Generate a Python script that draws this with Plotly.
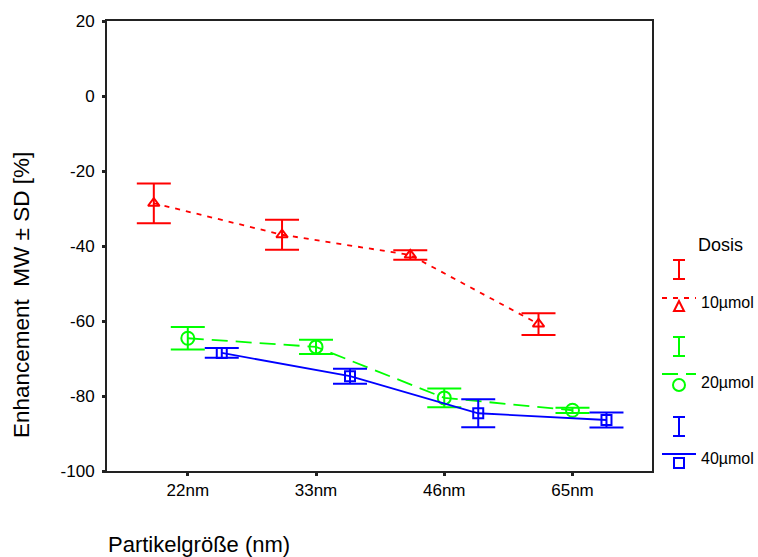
import plotly.graph_objects as go

# Particle size categories and dose groups
categories = ["22nm", "33nm", "46nm", "65nm"]
doses = ["10µmol", "20µmol", "40µmol"]

# Mean enhancement (%) and standard deviation per dose group
mean_10 = [-28.6, -37.0, -42.4, -60.8]
sd_10 = [5.3, 4.0, 1.3, 2.9]
mean_20 = [-64.6, -66.9, -80.5, -83.8]
sd_20 = [3.0, 1.9, 2.5, 0.7]
mean_40 = [-68.5, -74.7, -84.6, -86.4]
sd_40 = [1.3, 2.0, 3.7, 2.0]

y_ticks = [-100, -80, -60, -40, -20, 0, 20]

FONT = "Liberation Sans, Arial, sans-serif"

# Style per dose group: colour, dash pattern, marker symbol, marker size, dodge offset
styles = [
    ("#FF0000", "5px,6px", "triangle-up-open", 10, -0.265),
    ("#00FF00", "16px,8px", "circle-open", 13, 0.0),
    ("#0000FF", "solid", "square-open", 10, 0.265),
]
means = [mean_10, mean_20, mean_40]
sds = [sd_10, sd_20, sd_40]

fig = go.Figure()
for name, m, s, (col, dash, sym, msize, off) in zip(doses, means, sds, styles):
    xs = [i + off for i in range(len(categories))]
    fig.add_trace(go.Scatter(
        x=xs, y=m, name=name, mode="lines+markers",
        line=dict(color=col, width=1.8, dash=dash),
        marker=dict(symbol=sym, size=msize, color=col, line=dict(color=col, width=2)),
        error_y=dict(type="data", array=s, visible=True, color=col,
                     thickness=2, width=17),
        showlegend=False,
    ))

# Plot area geometry (pixels) used to place the hand-made legend
W, H = 758, 557
L, R, T, B = 107, 106, 21, 86
PW, PH = W - L - R, H - T - B


def px(x):
    return (x - L) / PW


def py(y):
    return (H - B - y) / PH


shapes = []
annotations = []

# Legend: error-bar glyph above a line sample with marker, per dose
legend_rows = [(260, 298, 306, 302), (337, 374, 385, 382), (417, 454, 463, 458)]
cx = 679
for name, (col, dash, sym, msize, off), (ibar, liney, mk, laby) in zip(doses, styles, legend_rows):
    ref = dict(xref="paper", yref="paper")
    # error-bar glyph
    shapes.append(dict(type="line", x0=px(cx), x1=px(cx), y0=py(ibar), y1=py(ibar + 19),
                       line=dict(color=col, width=2), **ref))
    for yy in (ibar, ibar + 19):
        shapes.append(dict(type="line", x0=px(cx - 6), x1=px(cx + 6), y0=py(yy), y1=py(yy),
                           line=dict(color=col, width=2), **ref))
    # line sample
    shapes.append(dict(type="line", x0=px(662), x1=px(696), y0=py(liney), y1=py(liney),
                       line=dict(color=col, width=2, dash=dash), **ref))
    # marker sample
    if sym.startswith("triangle"):
        path = "M {} {} L {} {} L {} {} Z".format(px(cx - 5), py(mk + 5), px(cx + 5), py(mk + 5), px(cx), py(mk - 5))
        shapes.append(dict(type="path", path=path, line=dict(color=col, width=2), **ref))
    elif sym.startswith("circle"):
        shapes.append(dict(type="circle", x0=px(cx - 6), x1=px(cx + 6), y0=py(mk - 6), y1=py(mk + 6),
                           line=dict(color=col, width=2), **ref))
    else:
        shapes.append(dict(type="rect", x0=px(cx - 5), x1=px(cx + 5), y0=py(mk - 5), y1=py(mk + 5),
                           line=dict(color=col, width=2), **ref))
    annotations.append(dict(text=name, x=px(699), y=py(laby), xanchor="left", yanchor="middle",
                            showarrow=False, font=dict(family=FONT, size=16, color="black"), **ref))

annotations.append(dict(text="Dosis", x=px(720), y=py(245), xanchor="center", yanchor="middle",
                        xref="paper", yref="paper", showarrow=False,
                        font=dict(family=FONT, size=18, color="black")))
# Axis titles
annotations.append(dict(text="Enhancement  MW ± SD [%]", x=px(22), y=py(295), textangle=-90,
                        xanchor="center", yanchor="middle", xref="paper", yref="paper",
                        showarrow=False, font=dict(family=FONT, size=22.5, color="black")))
annotations.append(dict(text="Partikelgröße (nm)", x=px(106), y=py(544), xanchor="left",
                        yanchor="middle", xref="paper", yref="paper", showarrow=False,
                        font=dict(family=FONT, size=22, color="black")))

fig.update_layout(
    width=W, height=H,
    margin=dict(l=L, r=R, t=T, b=B),
    paper_bgcolor="white", plot_bgcolor="white",
    shapes=shapes, annotations=annotations,
    font=dict(family=FONT, color="black"),
)
fig.update_xaxes(
    range=[-0.63, 3.62], tickvals=list(range(len(categories))), ticktext=categories,
    showgrid=False, zeroline=False, showline=True, linecolor="#222", linewidth=2,
    mirror=True, ticks="outside", ticklen=3, tickwidth=3, tickcolor="#222",
    tickfont=dict(family=FONT, size=17),
)
fig.update_yaxes(
    range=[-100, 20], tickvals=y_ticks, ticktext=[str(v) for v in y_ticks],
    showgrid=False, zeroline=False, showline=True, linecolor="#222", linewidth=2,
    mirror=True, ticks="outside", ticklen=3, tickwidth=3, tickcolor="#222",
    tickfont=dict(family=FONT, size=17), ticklabelstandoff=4,
)

fig.write_html("out.html")
